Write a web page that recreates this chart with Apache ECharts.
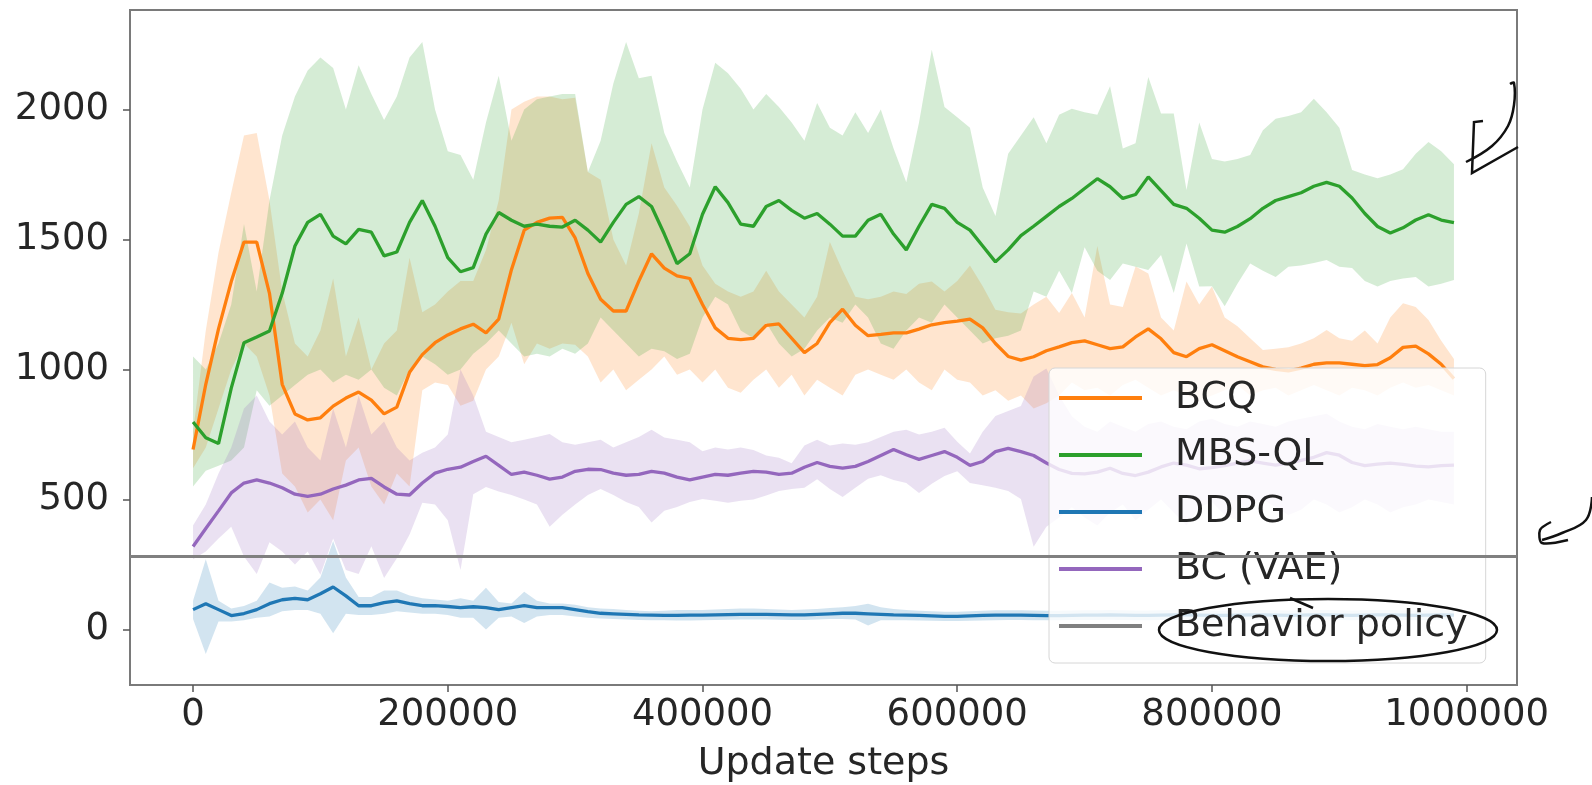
<!DOCTYPE html>
<html>
<head>
<meta charset="utf-8">
<script src="https://cdn.jsdelivr.net/npm/echarts@6/dist/echarts.min.js"></script>
<style>
  html, body { margin: 0; padding: 0; background: #ffffff; }
  #chart { width: 1592px; height: 785px; }
</style>
</head>
<body>
<div id="chart"></div>
<script>
// ---------------- DATA ----------------
const steps = [0,10000,20000,30000,40000,50000,60000,70000,80000,90000,
  100000,110000,120000,130000,140000,150000,160000,170000,180000,190000,
  200000,210000,220000,230000,240000,250000,260000,270000,280000,290000,
  300000,310000,320000,330000,340000,350000,360000,370000,380000,390000,
  400000,410000,420000,430000,440000,450000,460000,470000,480000,490000,
  500000,510000,520000,530000,540000,550000,560000,570000,580000,590000,
  600000,610000,620000,630000,640000,650000,660000,670000,680000,690000,
  700000,710000,720000,730000,740000,750000,760000,770000,780000,790000,
  800000,810000,820000,830000,840000,850000,860000,870000,880000,890000,
  900000,910000,920000,930000,940000,950000,960000,970000,980000,990000];

const xTicks = [0, 200000, 400000, 600000, 800000, 1000000];
const yTicks = [0, 500, 1000, 1500, 2000];

const bcqMean = [692,943,1156,1338,1490,1490,1293,943,829,806,
  814,859,890,913,882,829,855,989,1057,1103,
  1133,1156,1174,1141,1194,1384,1536,1566,1582,1585,
  1506,1369,1270,1225,1225,1340,1445,1390,1360,1350,
  1250,1160,1120,1115,1120,1170,1175,1120,1065,1100,
  1180,1232,1170,1130,1135,1141,1141,1155,1172,1180,
  1186,1194,1160,1100,1050,1036,1049,1072,1087,1103,
  1110,1095,1080,1087,1125,1156,1118,1065,1049,1080,
  1095,1072,1049,1030,1010,1000,995,1005,1020,1025,
  1025,1020,1015,1019,1045,1085,1090,1060,1020,965];
const bcqLow = [620,700,850,1000,1100,1050,900,600,550,450,
  500,420,650,700,550,480,600,550,920,950,
  940,860,880,1000,1050,1180,1020,1100,1080,1100,
  1095,1050,950,1000,920,960,1000,1050,980,1000,
  950,1000,930,910,960,1000,930,980,900,960,
  930,900,980,1000,980,960,1000,950,920,1000,
  960,950,900,920,880,900,850,870,900,950,
  920,930,900,940,960,930,900,920,900,880,
  900,920,940,900,920,930,900,920,940,920,
  900,930,920,900,930,950,930,940,920,900];
const bcqHigh = [760,1150,1450,1680,1900,1910,1650,1300,1100,1050,
  1150,1350,1050,1200,1000,1100,1150,1430,1220,1250,
  1300,1340,1340,1460,1650,2000,2030,2050,2050,2040,
  2045,1760,1730,1500,1400,1600,1870,1700,1630,1550,
  1400,1330,1300,1280,1300,1380,1300,1250,1200,1280,
  1490,1380,1280,1270,1280,1300,1290,1330,1338,1300,
  1340,1400,1320,1230,1220,1215,1250,1280,1217,1294,
  1200,1475,1250,1240,1396,1369,1200,1150,1338,1250,
  1319,1200,1166,1120,1075,1080,1085,1100,1120,1152,
  1120,1110,1150,1100,1200,1255,1240,1190,1110,1040];

const mbsMean = [798,737,715,928,1103,1125,1148,1293,1475,1566,
  1597,1513,1483,1539,1528,1437,1452,1566,1650,1551,
  1430,1376,1392,1521,1604,1574,1551,1559,1551,1548,
  1574,1536,1490,1566,1635,1665,1627,1521,1407,1445,
  1597,1703,1642,1559,1551,1627,1650,1612,1582,1600,
  1559,1513,1513,1574,1597,1521,1460,1551,1635,1620,
  1566,1536,1475,1414,1460,1515,1551,1589,1627,1658,
  1696,1734,1703,1658,1673,1741,1688,1635,1620,1582,
  1536,1528,1550,1580,1620,1650,1665,1680,1705,1720,
  1705,1660,1600,1550,1525,1545,1575,1595,1575,1565];
const mbsLow = [550,610,630,650,700,920,860,900,940,980,
  1000,950,980,960,1000,930,900,1000,1050,1020,
  980,1000,1060,1100,1150,1100,1050,1060,1050,1080,
  1060,1100,1200,1150,1100,1050,1080,1070,1040,1060,
  1200,1280,1250,1150,1120,1180,1100,1050,1080,1150,
  1200,1180,1250,1200,1100,1080,1150,1200,1180,1250,
  1200,1150,1100,1120,1130,1150,1300,1280,1380,1294,
  1470,1380,1344,1408,1395,1383,1440,1294,1485,1319,
  1320,1243,1330,1408,1380,1356,1395,1400,1410,1421,
  1395,1390,1340,1319,1340,1350,1356,1319,1330,1344];
const mbsHigh = [1050,1000,1100,1250,1560,1300,1650,1900,2050,2150,
  2200,2160,2000,2170,2060,1960,2050,2200,2260,2000,
  1840,1825,1730,1950,2130,1880,2000,2040,2050,2060,
  2060,1760,1880,2100,2260,2120,2130,1910,1800,1700,
  2000,2180,2140,2080,2000,2060,2010,1950,1880,2025,
  1930,1900,1990,1910,2000,1850,1720,1950,2230,2010,
  1970,1930,1700,1590,1830,1900,1970,1870,1980,2003,
  1990,1980,2090,1850,1870,2125,1985,1985,1690,1950,
  1810,1800,1810,1825,1920,1965,1975,1990,2042,1990,
  1930,1767,1750,1736,1750,1770,1830,1875,1840,1790];

const ddpgMean = [76,99,76,53,61,76,99,114,119,114,
  137,163,129,91,91,103,110,99,91,91,
  88,84,87,84,76,84,91,84,84,84,
  76,68,62,60,58,56,55,54,54,55,
  55,56,57,58,58,58,57,56,56,58,
  60,62,62,60,58,56,55,54,52,50,
  50,52,54,55,55,55,54,53,53,54,
  55,55,56,55,54,54,55,56,56,55,
  54,54,55,56,56,55,54,55,56,56,
  55,54,55,56,56,55,54,55,56,55];
const ddpgLow = [40,-95,30,30,35,45,50,70,75,75,
  60,-15,60,55,55,60,70,65,60,60,
  55,45,45,0,45,50,25,50,55,55,
  50,45,42,40,38,36,35,35,34,34,
  35,36,37,38,38,38,37,36,36,38,
  40,40,38,15,35,35,35,34,33,32,
  32,33,34,35,36,36,35,35,35,36,
  36,36,37,36,35,35,36,37,37,36,
  35,35,36,37,37,36,35,36,37,37,
  36,35,36,37,37,36,35,36,37,36];
const ddpgHigh = [110,270,110,80,90,110,180,160,165,150,
  200,340,200,125,125,150,150,130,120,115,
  110,120,110,160,105,100,145,110,100,100,
  95,85,80,78,75,72,70,72,75,75,
  75,76,78,80,80,78,76,75,76,78,
  82,85,90,99,85,78,75,72,70,68,
  68,70,72,74,74,74,73,72,72,73,
  74,74,75,74,73,73,74,75,75,74,
  73,73,74,75,75,74,73,74,75,75,
  74,73,74,75,75,74,73,74,75,74];

const bcMean = [319,388,456,525,563,575,563,545,520,512,
  520,540,555,575,581,548,520,517,563,601,
  616,624,646,666,631,596,605,593,578,586,
  608,616,615,601,593,596,608,601,586,575,
  586,596,593,601,608,605,596,601,624,642,
  627,620,627,646,669,692,672,654,669,684,
  662,631,646,684,696,684,669,640,615,600,
  598,605,620,600,592,605,625,640,632,618,
  622,630,640,648,640,632,640,650,662,680,
  670,642,630,636,640,635,628,625,630,632];
const bcLow = [270,300,350,395,280,213,335,300,250,300,
  210,350,228,213,320,198,274,365,487,480,
  420,228,520,548,530,517,500,480,395,441,
  480,517,540,517,490,471,411,456,471,490,
  502,495,487,495,500,515,532,540,545,578,
  540,509,545,580,593,575,563,525,560,590,
  608,563,555,545,532,502,318,395,430,470,
  430,400,450,480,420,460,500,450,400,470,
  490,440,420,480,500,470,440,460,500,480,
  450,470,500,480,450,470,480,500,490,480];
const bcHigh = [400,480,600,700,850,900,800,750,800,700,
  650,850,700,900,750,800,700,650,680,700,
  750,1000,900,760,740,720,730,740,752,720,
  710,720,730,700,720,740,768,738,730,720,
  685,700,692,700,690,669,660,639,707,730,
  707,715,710,720,740,760,768,750,760,776,
  722,677,760,821,840,859,973,1004,900,820,
  780,760,800,780,760,790,800,780,770,800,
  810,790,780,800,790,780,800,810,820,830,
  800,780,770,790,780,770,780,770,760,760];

const behaviorValue = 280;

const names = ['BCQ', 'MBS-QL', 'DDPG', 'BC (VAE)', 'Behavior policy'];
const colors = { 'BCQ': '#ff7f0e', 'MBS-QL': '#2ca02c', 'DDPG': '#1f77b4', 'BC (VAE)': '#9467bd', 'Behavior policy': '#808080' };
const bandFills = { 'BCQ': 'rgba(255,127,14,0.2)', 'MBS-QL': 'rgba(44,160,44,0.2)', 'DDPG': 'rgba(31,119,180,0.2)', 'BC (VAE)': 'rgba(148,103,189,0.2)' };

// ---------------- CHART ----------------
function pairs(ys) { return steps.map((s, i) => [s, ys[i]]); }

function band(id, lo, hi, fill) {
  return {
    type: 'custom', id: id, name: id, z: 1, silent: true,
    coordinateSystem: 'cartesian2d',
    data: steps.map((s, i) => [s, lo[i], hi[i]]),
    encode: { x: 0, y: [1, 2] },
    renderItem: function (params, api) {
      if (params.dataIndex !== 0) return null;
      const pts = [];
      for (let i = 0; i < steps.length; i++) pts.push(api.coord([steps[i], hi[i]]));
      for (let i = steps.length - 1; i >= 0; i--) pts.push(api.coord([steps[i], lo[i]]));
      return { type: 'polygon', shape: { points: pts }, style: { fill: fill, stroke: null } };
    }
  };
}

function line(name, ys) {
  return {
    type: 'line', name: name, z: 3, data: pairs(ys),
    showSymbol: false, symbol: 'none', silent: true,
    lineStyle: { color: colors[name], width: 3.3 },
    itemStyle: { color: colors[name] }
  };
}

const FONT = 'DejaVu Sans';
const TXT = '#262626';

const option = {
  animation: false,
  backgroundColor: '#ffffff',
  grid: { left: 130, right: 75, top: 10, bottom: 100, containLabel: false, outerBoundsMode: 'none',
          show: true, borderColor: '#7a7a7a', borderWidth: 2, backgroundColor: 'transparent' },
  xAxis: {
    type: 'value', min: -49500, max: 1039500,
    name: 'Update steps', nameLocation: 'middle', nameGap: 60,
    nameTextStyle: { fontSize: 38, fontFamily: FONT, color: TXT },
    axisLine: { show: false, onZero: false },
    splitLine: { show: false },
    axisTick: { show: true, inside: false, length: 7, customValues: xTicks, lineStyle: { color: '#555', width: 1.5 } },
    axisLabel: { customValues: xTicks, fontSize: 37, fontFamily: FONT, color: TXT, margin: 12, formatter: v => String(v) }
  },
  yAxis: {
    type: 'value', min: -214, max: 2383,
    axisLine: { show: false, onZero: false },
    splitLine: { show: false },
    axisTick: { show: true, inside: false, length: 7, customValues: yTicks, lineStyle: { color: '#555', width: 1.5 } },
    axisLabel: { customValues: yTicks, fontSize: 37, fontFamily: FONT, color: TXT, margin: 21, formatter: v => String(v) }
  },
  legend: {
    orient: 'vertical', left: 1049, top: 368,
    data: names,
    icon: 'rect', itemWidth: 83, itemHeight: 4, itemGap: 17,
    padding: [10, 18, 17, 10],
    backgroundColor: 'rgba(255,255,255,0.8)', borderColor: '#d6d6d6', borderWidth: 1, borderRadius: 6,
    selectedMode: false,
    textStyle: { fontSize: 38, fontFamily: FONT, color: TXT, lineHeight: 40, padding: [0, 0, 0, 28] }
  },
  series: [
    band('BCQ band', bcqLow, bcqHigh, bandFills['BCQ']),
    band('MBS-QL band', mbsLow, mbsHigh, bandFills['MBS-QL']),
    band('DDPG band', ddpgLow, ddpgHigh, bandFills['DDPG']),
    band('BC band', bcLow, bcHigh, bandFills['BC (VAE)']),
    {
      type: 'line', name: 'Behavior policy', z: 2, data: [], silent: true,
      lineStyle: { color: colors['Behavior policy'], width: 3 },
      itemStyle: { color: colors['Behavior policy'] },
      markLine: {
        silent: true, symbol: ['none', 'none'], label: { show: false },
        lineStyle: { color: colors['Behavior policy'], width: 3, type: 'solid' },
        emphasis: { disabled: true },
        data: [{ yAxis: behaviorValue }]
      }
    },
    line('BCQ', bcqMean),
    line('MBS-QL', mbsMean),
    line('DDPG', ddpgMean),
    line('BC (VAE)', bcMean)
  ],
  graphic: [
    { type: 'polyline', z: 100, shape: { points: [[1510, 84], [1514, 83], [1514, 105], [1508, 126], [1492, 146], [1466, 162]], smooth: 0.4 }, style: { stroke: '#111', lineWidth: 2.5, fill: null } },
    { type: 'polyline', z: 100, shape: { points: [[1483, 121], [1474, 122], [1472, 173], [1518, 147]] }, style: { stroke: '#111', lineWidth: 2.5, fill: null } },
    { type: 'polyline', z: 100, shape: { points: [[1592, 497], [1586, 520], [1562, 533], [1542, 540]], smooth: 0.4 }, style: { stroke: '#111', lineWidth: 2.5, fill: null } },
    { type: 'polyline', z: 100, shape: { points: [[1551, 522], [1540, 530], [1542, 543], [1568, 540]], smooth: 0.3 }, style: { stroke: '#111', lineWidth: 2.5, fill: null } },
    { type: 'ellipse', z: 100, shape: { cx: 1328, cy: 630, rx: 169, ry: 31 }, style: { stroke: '#111', lineWidth: 2.5, fill: null } },
    { type: 'polyline', z: 100, shape: { points: [[1290, 598], [1313, 608]] }, style: { stroke: '#111', lineWidth: 2.5, fill: null } }
  ]
};

const chart = echarts.init(document.getElementById('chart'), null, { renderer: 'canvas' });
chart.setOption(option);
</script>
</body>
</html>
